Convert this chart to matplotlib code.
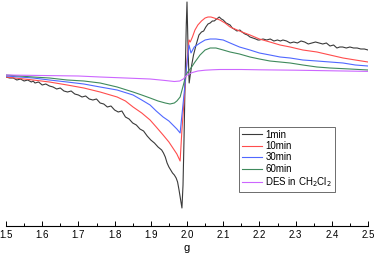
import matplotlib
matplotlib.use("Agg")
import matplotlib.pyplot as plt

plt.rcParams['font.family'] = ['Liberation Sans', 'DejaVu Sans']

# g values and signal (arbitrary units)
g_1min = [1.50, 1.51, 1.52, 1.53, 1.54, 1.55, 1.56, 1.57, 1.575, 1.58, 1.59, 1.60, 1.61, 1.62,
          1.63, 1.64, 1.65, 1.66, 1.67, 1.68, 1.69, 1.70, 1.71, 1.72, 1.73, 1.74, 1.75, 1.76,
          1.77, 1.78, 1.79, 1.80, 1.81, 1.82, 1.83, 1.84, 1.85, 1.86, 1.87, 1.88, 1.89, 1.90,
          1.91, 1.92, 1.93, 1.935, 1.94, 1.945, 1.95, 1.955, 1.96, 1.965, 1.970, 1.974, 1.978,
          1.982, 1.986, 1.989, 1.992, 1.995, 1.998, 2.000, 2.003, 2.006, 2.009, 2.013, 2.018,
          2.025, 2.033, 2.040, 2.046, 2.052, 2.058, 2.064, 2.070, 2.075, 2.082, 2.089,
          2.095, 2.100, 2.108, 2.119, 2.125, 2.130, 2.138, 2.146, 2.152, 2.160, 2.167, 2.174,
          2.182, 2.190, 2.196, 2.200, 2.210, 2.220, 2.230, 2.240, 2.250, 2.258, 2.265, 2.275,
          2.285, 2.295, 2.305, 2.315, 2.325, 2.335, 2.345, 2.355, 2.365, 2.375, 2.385, 2.395,
          2.405, 2.414, 2.422, 2.430, 2.440, 2.450, 2.460, 2.470, 2.480, 2.490, 2.500]
v_1min = [-2, -3, -3, -5, -4, -6, -5, -7, -6, -8, -7, -10, -9, -11,
          -12, -14, -13, -16, -17, -16, -19, -20, -22, -21, -24, -25, -24, -28,
          -29, -32, -31, -35, -37, -36, -42, -44, -48, -50, -54, -56, -61, -65,
          -68, -72, -75, -78, -82, -88, -92, -95, -98, -100, -103, -107, -115,
          -124, -133, -110, -60, 0, 50, 73, 25, -8, 0, 10, 20,
          30, 40, 43, 44, 48, 51, 52, 54, 54, 56, 58,
          56, 55, 52, 50, 47, 46, 44, 45, 43, 41, 40, 38,
          37, 36, 35, 35, 36, 35, 36, 34, 35, 34, 35, 34,
          32, 33, 32, 34, 33, 31, 32, 33, 32, 31, 32, 29,
          30, 27, 28, 28, 27, 28, 27, 27, 26, 26, 25]

g_10min = [1.50, 1.575, 1.62, 1.669, 1.715, 1.760, 1.807, 1.830, 1.851, 1.875, 1.898, 1.915,
           1.934, 1.950, 1.961, 1.972, 1.981, 1.986, 1.993, 2.000, 2.0055, 2.009, 2.015, 2.022,
           2.030, 2.040, 2.050, 2.058, 2.066, 2.075, 2.091, 2.105, 2.119, 2.145, 2.174, 2.200,
           2.229, 2.257, 2.285, 2.320, 2.359, 2.395, 2.431, 2.465, 2.500]
v_10min = [-2, -5, -7, -10, -13, -17, -22, -26, -32, -38, -45, -52,
           -60, -67, -73, -79, -86, -55, -20, 15, 35, 33, 38, 45,
           50, 54, 57, 58, 58, 57, 55, 52, 48, 44, 40, 36,
           33, 30, 28, 25, 23, 20, 17, 15, 13]

g_30min = [1.50, 1.575, 1.62, 1.669, 1.715, 1.760, 1.807, 1.851, 1.875, 1.898, 1.915, 1.934,
           1.950, 1.961, 1.972, 1.981, 1.986, 1.993, 2.000, 2.0055, 2.011, 2.020, 2.036, 2.050,
           2.064, 2.080, 2.100, 2.119, 2.145, 2.174, 2.200, 2.229, 2.257, 2.285, 2.320, 2.359,
           2.395, 2.431, 2.465, 2.500]
v_30min = [-1, -3, -5, -7, -9, -12, -15, -20, -25, -30, -36, -42,
           -46, -50, -54, -58, -40, -15, 12, 30, 22, 28, 32, 35,
           36, 36, 35, 32, 28, 25, 22, 20, 18, 17, 15, 14,
           13, 12, 10, 9]

g_60min = [1.50, 1.575, 1.62, 1.669, 1.715, 1.760, 1.807, 1.851, 1.875, 1.898, 1.920, 1.940,
           1.953, 1.965, 1.972, 1.981, 1.990, 1.997, 2.004, 2.011, 2.022, 2.036, 2.050, 2.064,
           2.080, 2.100, 2.119, 2.145, 2.174, 2.200, 2.229, 2.257, 2.285, 2.320, 2.359, 2.395,
           2.450, 2.500]
v_60min = [0, -2, -3, -5, -6, -8, -12, -17, -20, -23, -26, -28,
           -29, -28, -26, -22, -10, 0, 4, 7, 13, 20, 25, 27,
           27, 25, 23, 21, 18, 16, 14, 13, 12, 10, 8, 7,
           6, 5]

g_des = [1.50, 1.60, 1.70, 1.760, 1.830, 1.898, 1.940, 1.965, 1.980, 1.990, 1.997, 2.005,
         2.015, 2.030, 2.050, 2.070, 2.091, 2.150, 2.200, 2.300, 2.400, 2.500]
v_des = [0, -0.5, -1, -2, -3, -4, -5.5, -6.5, -6, -4, -1, 1,
         2.5, 4, 4.8, 5.2, 5.5, 5.5, 5.2, 4.8, 4.2, 3.6]

series = [
    (g_1min, v_1min, "1min", "#3a3a3a"),
    (g_10min, v_10min, "10min", "#ff4d4d"),
    (g_30min, v_30min, "30min", "#5068ff"),
    (g_60min, v_60min, "60min", "#3f8a5c"),
    (g_des, v_des, "DES in CH$_2$Cl$_2$", "#cc66ff"),
]

fig = plt.figure(figsize=(3.74, 2.59), dpi=100)
ax = fig.add_axes([6/374., 33/259., 362/374., 226/259.])
for g, v, name, col in series:
    ax.plot(g, v, color=col, lw=0.8, label=name)

ax.set_xlim(1.5, 2.5)
ax.set_ylim(-151, 75)
for s in ['top', 'left', 'right']:
    ax.spines[s].set_visible(False)
ax.spines['bottom'].set_linewidth(0.8)
ax.set_yticks([])
ax.set_xticks([1.5 + 0.1*i for i in range(11)])
ax.set_xticklabels(["%.1f" % (1.5 + 0.1*i) for i in range(11)], fontsize=7)
ax.set_xticks([1.55 + 0.1*i for i in range(10)], minor=True)
ax.tick_params(which='major', direction='in', length=3.5, width=0.7, pad=3)
ax.tick_params(which='minor', direction='in', length=2, width=0.7)
ax.set_xlabel("g", fontsize=8, labelpad=2)

leg = ax.legend(loc='lower right', bbox_to_anchor=(0.909, 0.150), borderaxespad=0.,
                fontsize=7, fancybox=False, framealpha=1, edgecolor='#555555',
                handlelength=2.0, handletextpad=0.4, labelspacing=0.15, borderpad=0.3)
leg.get_frame().set_linewidth(0.6)

fig.savefig("out.png", dpi=100)
